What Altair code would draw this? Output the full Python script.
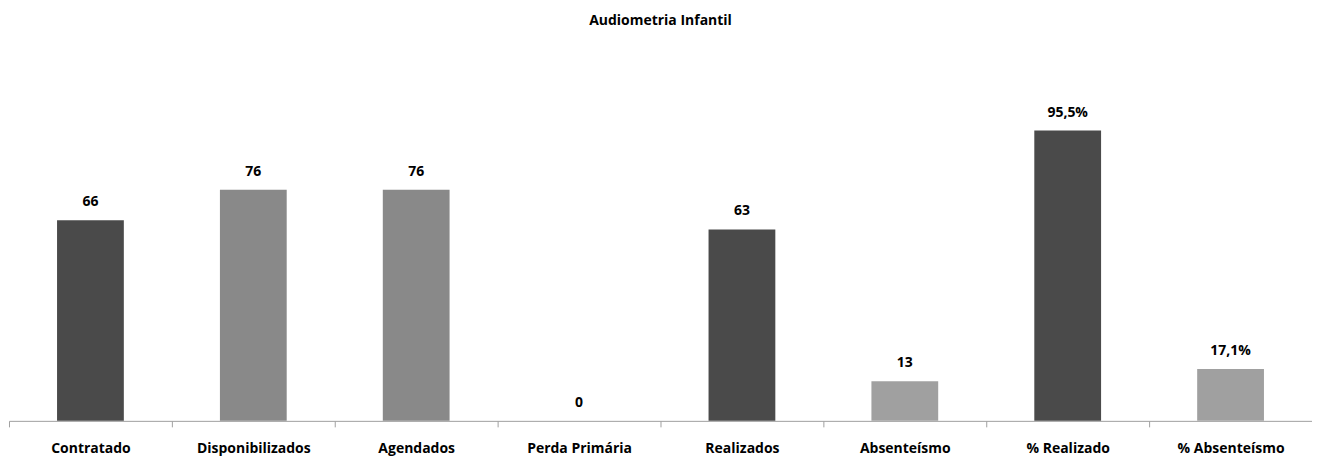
import altair as alt
import pandas as pd

categories = ["Contratado", "Disponibilizados", "Agendados", "Perda Primária",
              "Realizados", "Absenteísmo", "% Realizado", "% Absenteísmo"]
values = [66, 76, 76, 0, 63, 13, 95.5, 17.1]
labels = ["66", "76", "76", "0", "63", "13", "95,5%", "17,1%"]
colors = ["#4a4a4a", "#898989", "#898989", "#898989", "#4a4a4a", "#a0a0a0", "#4a4a4a", "#a0a0a0"]

df = pd.DataFrame({"cat": categories, "val": values, "lab": labels, "col": colors})

FONT = "Open Sans"
W = 1304
STEP = W / len(categories)

x = alt.X("cat:N", sort=categories,
          scale=alt.Scale(paddingInner=0.59, paddingOuter=0.295),
          axis=alt.Axis(title=None, labelAngle=0, labelFont=FONT, labelFontSize=14,
                        labelFontWeight="bold", labelColor="#000000", labelPadding=15,
                        domainColor="#a0a0a0", tickColor="#a0a0a0", tickSize=6,
                        ticks=True, tickOffset=-STEP / 2, labelOffset=STEP / 2,
                        domainWidth=1, tickWidth=1))
y = alt.Y("val:Q", scale=alt.Scale(domain=[0, 120], nice=False), axis=None)

bars = alt.Chart(df).mark_bar().encode(x=x, y=y, color=alt.Color("col:N", scale=None))
text = alt.Chart(df).mark_text(baseline="bottom", dy=-11, font=FONT, fontSize=14,
                               fontWeight="bold", color="#000000").encode(x=x, y=y, text="lab:N")

chart = (bars + text).properties(
    width=W, height=365,
    title=alt.TitleParams("Audiometria Infantil", font=FONT, fontSize=14, fontWeight="bold",
                          color="#000000", offset=28, anchor="middle"),
    padding={"left": 0, "right": 0, "top": 6, "bottom": 0},
).configure_view(stroke=None)

chart.save("out.html", embed_options={"renderer": "svg", "actions": False})
